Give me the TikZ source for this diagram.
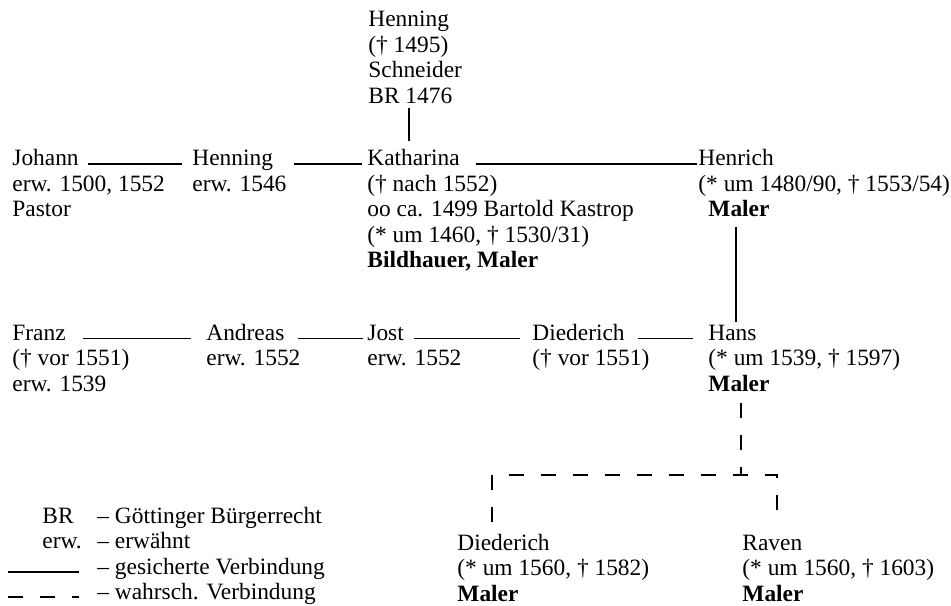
\documentclass[tikz,border=0pt]{standalone}
\usepackage{fontspec}
\setmainfont{Liberation Serif}

\newcommand{\treefont}{\fontsize{11.7}{12.75}\selectfont}
\tikzset{
    pers/.style={anchor=base west, inner sep=0pt, font=\treefont},
    info/.style={pers, align=left},
    sure/.style={line width=0.65pt},
    likely/.style={line width=0.65pt, dash pattern=on 7.5pt off 8.5pt},
}

\begin{document}
\begin{tikzpicture}[x=0.5pt, y=-0.5pt]
            \useasboundingbox (0,0) rectangle (951,605);

            \node[pers] (henning1) at (368,26.5) {Henning};
            \node[info] (henning1-i) at ([yshift=-38.25pt]henning1.base west)
                {(† 1495)\\Schneider\\BR 1476};

            \node[pers] (johann) at (12,165.5) {Johann};
            \node[info] (johann-i) at ([yshift=-25.5pt]johann.base west)
                {erw. 1500, 1552\\Pastor};
            \node[pers] (henning2) at (192,165.5) {Henning};
            \node[info] (henning2-i) at ([yshift=-12.75pt]henning2.base west)
                {erw. 1546};
            \node[pers] (kath) at (367,165.5) {Katharina};
            \node[info] (kath-i) at ([yshift=-51pt]kath.base west)
                {(† nach 1552)\\oo ca. 1499 Bartold Kastrop\\(* um 1460, † 1530/31)\\\textbf{Bildhauer, Maler}};
            \node[pers] (henrich) at (698,165.5) {Henrich};
            \node[info] (henrich-i) at ([yshift=-25.5pt]henrich.base west)
                {(* um 1480/90, † 1553/54)\\\hspace{5pt}\textbf{Maler}};

            \node[pers] (franz) at (12,340) {Franz};
            \node[info] (franz-i) at ([yshift=-25.5pt]franz.base west)
                {(† vor 1551)\\erw. 1539};
            \node[pers] (andreas) at (206,340) {Andreas};
            \node[info] (andreas-i) at ([yshift=-12.75pt]andreas.base west)
                {erw. 1552};
            \node[pers] (jost) at (367,340) {Jost};
            \node[info] (jost-i) at ([yshift=-12.75pt]jost.base west)
                {erw. 1552};
            \node[pers] (died1) at (532,340) {Diederich};
            \node[info] (died1-i) at ([yshift=-12.75pt]died1.base west)
                {(† vor 1551)};
            \node[pers] (hans) at (708,340) {Hans};
            \node[info] (hans-i) at ([yshift=-25.5pt]hans.base west)
                {(* um 1539, † 1597)\\\textbf{Maler}};

            \node[pers] (died2) at (457,550) {Diederich};
            \node[info] (died2-i) at ([yshift=-25.5pt]died2.base west)
                {(* um 1560, † 1582)\\\textbf{Maler}};
            \node[pers] (raven) at (742,550) {Raven};
            \node[info] (raven-i) at ([yshift=-25.5pt]raven.base west)
                {(* um 1560, † 1603)\\\textbf{Maler}};

            \draw[sure] ([shift={(4.3pt,0.7pt)}]johann.base east) --
                ([shift={(-5pt,0.7pt)}]henning2.base west);
            \draw[sure] ([shift={(10.2pt,0.7pt)}]henning2.base east) --
                ([shift={(-2.5pt,0.7pt)}]kath.base west);
            \draw[sure] ([shift={(8pt,0.7pt)}]kath.base east) --
                ([shift={(-0.5pt,0.7pt)}]henrich.base west);
            \draw[sure] ([shift={(20.5pt,-2pt)}]henning1-i.south west) --
                ([shift={(21pt,3.75pt)}]kath.north west);
            \draw[sure] ([shift={(19pt,-4.75pt)}]henrich-i.south west) --
                ([shift={(14pt,1.2pt)}]hans.north west);

            \draw[sure] ([shift={(8.3pt,0.7pt)}]franz.base east) --
                ([shift={(-7.5pt,0.7pt)}]andreas.base west);
            \draw[sure] ([shift={(6.5pt,0.7pt)}]andreas.base east) --
                ([shift={(-2pt,0.7pt)}]jost.base west);
            \draw[sure] ([shift={(4.8pt,0.7pt)}]jost.base east) --
                ([shift={(-6pt,0.7pt)}]died1.base west);
            \draw[sure] ([shift={(6.3pt,0.7pt)}]died1.base east) --
                ([shift={(-7.5pt,0.7pt)}]hans.base west);

            \coordinate (fork) at (741,475);
            \draw[likely] ([shift={(16.5pt,-5.5pt)}]hans-i.south west) -- (fork);
            \draw[likely] ([shift={(17.5pt,5.5pt)}]died2.north west) |- (fork)
                -| ([shift={(17.5pt,5.5pt)}]raven.north west);

            \node[info] (key) at (42,548.5) {BR\\erw.};
            \node[info] (key-t) at (97,599.5)
                {– Göttinger Bürgerrecht\\– erwähnt\\– gesicherte Verbindung\\– wahrsch. Verbindung};
            \draw[sure] (8,572) -- (79,572);
            \draw[likely] (8,597) -- (79,597);
        \end{tikzpicture}
\end{document}
